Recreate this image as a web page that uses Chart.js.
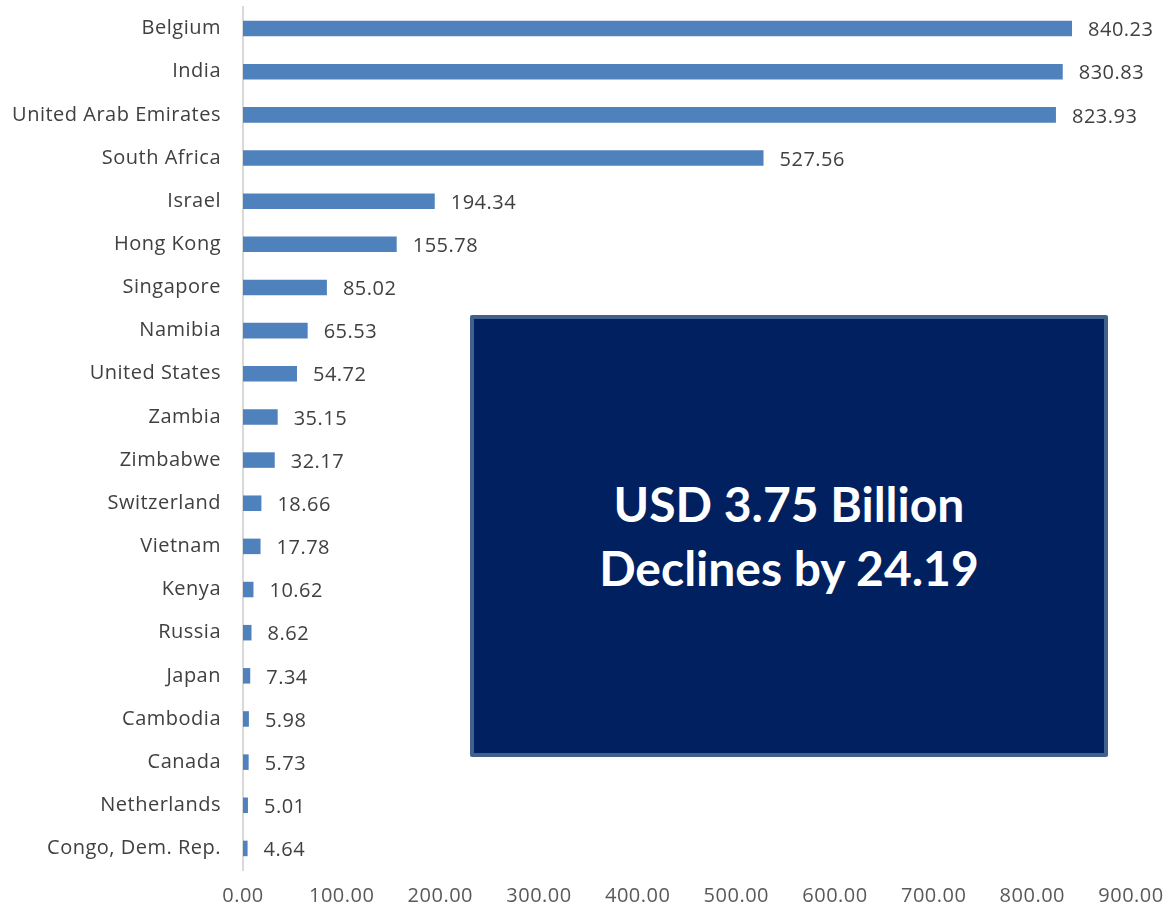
<!DOCTYPE html>
<html>
<head>
<meta charset="utf-8">
<script src="https://cdn.jsdelivr.net/npm/chart.js@4"></script>
<style>
    body { margin: 0; background: #fff; }
    #wrap { position: relative; width: 1166px; height: 912px; }
    canvas { display: block; }
    #note {
        position: absolute; left: 470px; top: 315px; width: 630px; height: 434px;
        background: #002060; border: 4px solid #3F618C; border-radius: 2px;
        color: #fff; font-family: Lato, "Open Sans", sans-serif; font-weight: bold;
        font-size: 48px; line-height: 64px; text-align: center;
        display: flex; flex-direction: column; justify-content: center;
    }
</style>
</head>
<body>
<div id="wrap">
    <canvas id="chart" width="1166" height="912"></canvas>
    <div id="note"><div>USD 3.75 Billion</div><div>Declines by 24.19</div></div>
</div>
<script>
// ---------------- DATA ----------------
const countries = [
    'Belgium', 'India', 'United Arab Emirates', 'South Africa', 'Israel',
    'Hong Kong', 'Singapore', 'Namibia', 'United States', 'Zambia',
    'Zimbabwe', 'Switzerland', 'Vietnam', 'Kenya', 'Russia',
    'Japan', 'Cambodia', 'Canada', 'Netherlands', 'Congo, Dem. Rep.'
];
const values = [
    840.23, 830.83, 823.93, 527.56, 194.34,
    155.78, 85.02, 65.53, 54.72, 35.15,
    32.17, 18.66, 17.78, 10.62, 8.62,
    7.34, 5.98, 5.73, 5.01, 4.64
];
const xTicks = [0, 100, 200, 300, 400, 500, 600, 700, 800, 900];

const FONT = '"Open Sans", Lato, sans-serif';

// ---------------- LABELS ----------------
// slightly spaced-out text, like the original office chart
const spacing = {
    id: 'spacing',
    beforeDraw(chart) { chart.ctx.letterSpacing = '0.5px'; }
};

const valueLabels = {
    id: 'valueLabels',
    afterDatasetsDraw(chart) {
        const ctx = chart.ctx;
        const meta = chart.getDatasetMeta(0);
        ctx.save();
        ctx.font = '20px ' + FONT;
        ctx.fillStyle = '#404040';
        ctx.textAlign = 'left';
        ctx.textBaseline = 'middle';
        meta.data.forEach((bar, i) => {
            ctx.fillText(values[i].toFixed(2), bar.x + 16, bar.y + 2);
        });
        ctx.restore();
    }
};

// ---------------- CHART ----------------
new Chart(document.getElementById('chart').getContext('2d'), {
    type: 'bar',
    data: {
        labels: countries,
        datasets: [{
            data: values,
            backgroundColor: '#4F81BD',
            barPercentage: 0.36,
            categoryPercentage: 1
        }]
    },
    options: {
        indexAxis: 'y',
        responsive: false,
        animation: false,
        layout: { padding: { top: 7, right: 35, bottom: 0, left: 0 } },
        plugins: { legend: { display: false }, tooltip: { enabled: false } },
        scales: {
            x: {
                min: 0,
                max: 900,
                afterBuildTicks: scale => { scale.ticks = xTicks.map(v => ({ value: v })); },
                afterFit: scale => { scale.height = 42; scale.paddingLeft = 0; scale.paddingRight = 0; },
                grid: { display: false, drawTicks: false },
                border: { display: false },
                ticks: {
                    color: '#595959',
                    font: { family: FONT, size: 20 },
                    padding: 14,
                    maxRotation: 0,
                    callback: v => Number(v).toFixed(2)
                }
            },
            y: {
                afterFit: scale => { scale.width = 243; scale.paddingTop = 0; scale.paddingBottom = 0; },
                grid: { display: false, drawTicks: false },
                border: { display: true, color: '#D9D9D9', width: 2 },
                ticks: {
                    color: '#404040',
                    font: { family: FONT, size: 20 },
                    padding: 22
                }
            }
        }
    },
    plugins: [spacing, valueLabels]
});
</script>
</body>
</html>
